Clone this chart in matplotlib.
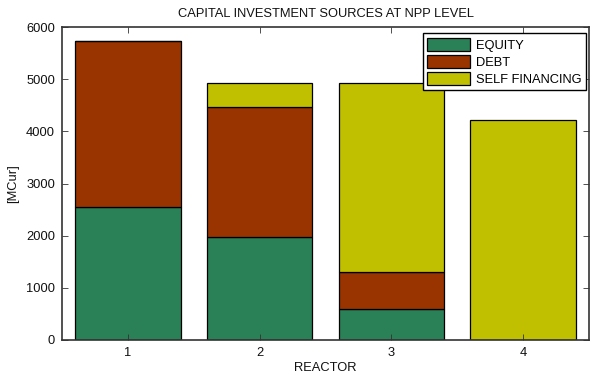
import matplotlib
matplotlib.use("Agg")
import matplotlib.pyplot as plt
import numpy as np

plt.rcParams['font.family'] = ['Liberation Sans', 'DejaVu Sans']

reactors = [1, 2, 3, 4]
equity = [2550, 1975, 595, 0]
debt = [3180, 2490, 705, 0]
self_financing = [0, 460, 3625, 4215]
colors = {'EQUITY': '#2a8158', 'DEBT': '#993300', 'SELF FINANCING': '#c0c000'}

FS = 9.3

fig = plt.figure(figsize=(5.9, 3.77), dpi=100)
ax = fig.add_axes([62 / 590, 37 / 377, 527 / 590, 313 / 377])

x = np.array(reactors)
eq = np.array(equity)
de = np.array(debt)
sf = np.array(self_financing)
w = 0.8
ax.bar(x, eq, w, color=colors['EQUITY'], edgecolor='black', linewidth=0.9, label='EQUITY')
ax.bar(x, de, w, bottom=eq, color=colors['DEBT'], edgecolor='black', linewidth=0.9, label='DEBT')
ax.bar(x, sf, w, bottom=eq + de, color=colors['SELF FINANCING'], edgecolor='black', linewidth=0.9,
       label='SELF FINANCING')

ax.set_xlim(0.5, 4.5)
ax.set_ylim(0, 6000)
ax.set_xticks(reactors)
ax.set_xticklabels([str(r) for r in reactors])
ax.set_yticks(np.arange(0, 6001, 1000))
ax.tick_params(direction='in', length=4, width=0.6, labelsize=FS, top=True, right=True,
               colors='#333333', labelcolor='#111111', pad=5)
for s in ax.spines.values():
    s.set_color('#333333')
    s.set_linewidth(1.2)

ax.set_title('CAPITAL INVESTMENT SOURCES AT NPP LEVEL', fontsize=FS, pad=7, color='#111111')
ax.set_xlabel('REACTOR', fontsize=FS, labelpad=2, color='#111111')
ax.set_ylabel('[MCur]', fontsize=FS, labelpad=5, color='#111111')

leg = ax.legend(loc='upper right', bbox_to_anchor=(586 / 590, 1 - 33 / 377),
                bbox_transform=fig.transFigure, borderaxespad=0,
                fontsize=FS, handlelength=3.3, handleheight=1.25,
                labelspacing=0.22, handletextpad=0.45, borderpad=0.35,
                fancybox=False, framealpha=1)
leg.get_frame().set_edgecolor('black')
leg.get_frame().set_linewidth(1.0)

fig.savefig('out.png', dpi=100)
